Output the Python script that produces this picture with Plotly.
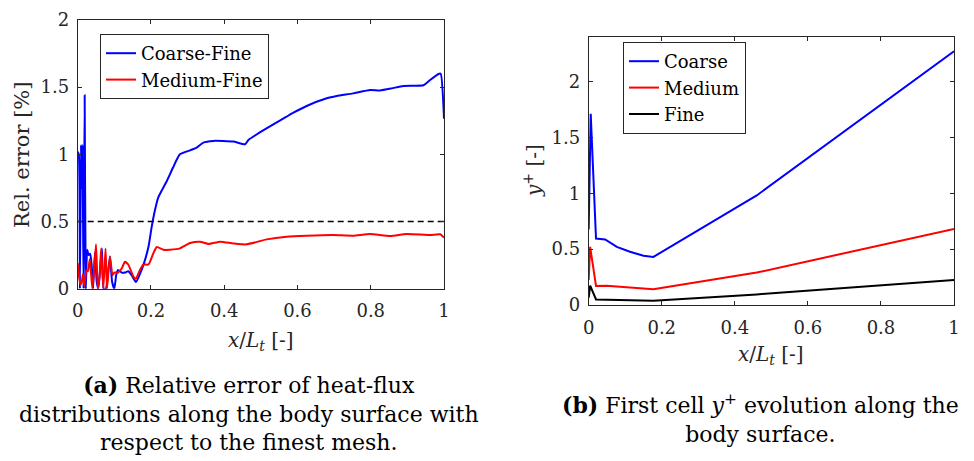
import plotly.graph_objects as go

# ---------------- data: (a) relative error ----------------
cf_x = [0, 0.003, 0.006, 0.009, 0.011, 0.013, 0.016, 0.019, 0.022, 0.026, 0.030, 0.034,
        0.038, 0.042, 0.047, 0.052, 0.056, 0.060, 0.066, 0.071, 0.077, 0.082, 0.088, 0.094,
        0.100, 0.105, 0.110, 0.120, 0.129, 0.138, 0.147, 0.159, 0.170, 0.181, 0.193, 0.202,
        0.211, 0.220, 0.243, 0.260, 0.279, 0.307, 0.325, 0.343, 0.370, 0.425, 0.457, 0.466,
        0.493, 0.534, 0.570, 0.589, 0.625, 0.680, 0.707, 0.752, 0.798, 0.825, 0.857, 0.889,
        0.944, 0.962, 0.985, 0.991, 1.0]
cf_y = [1.02, 1.0, 0.0, 1.07, 0.75, 1.07, 0.0, 1.44, 0.0, 0.29, 0.25, 0.26,
        0.18, 0.0, 0.27, 0.05, 0.0, 0.1, 0.30, 0.0, 0.0, 0.1, 0.24, 0.05,
        0.0, 0.10, 0.14, 0.12, 0.12, 0.13, 0.10, 0.05, 0.11, 0.19, 0.31, 0.46,
        0.586, 0.68, 0.80, 0.90, 1.0, 1.03, 1.05, 1.087, 1.10, 1.095, 1.075, 1.107,
        1.156, 1.223, 1.28, 1.31, 1.36, 1.417, 1.434, 1.454, 1.479, 1.476, 1.491, 1.509,
        1.514, 1.553, 1.598, 1.60, 1.265]

mf_x = [0, 0.004, 0.008, 0.011, 0.0145, 0.018, 0.024, 0.028, 0.033, 0.040, 0.045, 0.050,
        0.055, 0.060, 0.064, 0.070, 0.076, 0.080, 0.088, 0.095, 0.100, 0.110, 0.120, 0.129,
        0.138, 0.152, 0.159, 0.170, 0.179, 0.193, 0.206, 0.216, 0.234, 0.252, 0.279, 0.307,
        0.334, 0.357, 0.389, 0.425, 0.461, 0.516, 0.570, 0.625, 0.698, 0.752, 0.798, 0.853,
        0.898, 0.962, 0.990, 1.0]
mf_y = [0.19, 0.08, 0.03, 0.05, 0.11, 0.02, 0.14, 0.13, 0.22, 0.0, 0.15, 0.33,
        0.0, 0.1, 0.30, 0.0, 0.30, 0.0, 0.24, 0.1, 0.12, 0.12, 0.15, 0.20,
        0.18, 0.09, 0.075, 0.14, 0.18, 0.18, 0.26, 0.31, 0.29, 0.29, 0.30, 0.34,
        0.35, 0.333, 0.35, 0.337, 0.33, 0.367, 0.387, 0.395, 0.40, 0.395, 0.407, 0.392,
        0.407, 0.40, 0.405, 0.38]

threshold_x = [0, 1]
threshold_y = [0.5, 0.5]

# ---------------- data: (b) first cell y+ ----------------
coarse_x = [0, 0.0055, 0.02, 0.045, 0.077, 0.113, 0.15, 0.177, 0.46, 1.0]
coarse_y = [0.676, 1.71, 0.595, 0.586, 0.52, 0.476, 0.44, 0.43, 0.98, 2.27]
medium_x = [0, 0.004, 0.02, 0.049, 0.177, 0.46, 1.0]
medium_y = [0.223, 0.52, 0.17, 0.173, 0.14, 0.29, 0.68]
fine_x = [0, 0.004, 0.02, 0.177, 0.46, 1.0]
fine_y = [0.065, 0.173, 0.05, 0.039, 0.095, 0.223]

x_ticks = [0, 0.2, 0.4, 0.6, 0.8, 1]
x_ticktext = ["0", "0.2", "0.4", "0.6", "0.8", "1"]
y_ticks = [0, 0.5, 1, 1.5, 2]
y_ticktext = ["0", "0.5", "1", "1.5", "2"]

FONT = "DejaVu Serif"
AX = "#262626"
W, H = 974, 461

fig = go.Figure()
fig.add_trace(go.Scatter(x=cf_x, y=cf_y, mode="lines", name="Coarse-Fine",
                         line=dict(color="#0000ff", width=2, shape="spline", smoothing=0.5),
                         xaxis="x", yaxis="y", legend="legend"))
fig.add_trace(go.Scatter(x=mf_x, y=mf_y, mode="lines", name="Medium-Fine",
                         line=dict(color="#ff0000", width=2, shape="spline", smoothing=0.5),
                         xaxis="x", yaxis="y", legend="legend"))
fig.add_trace(go.Scatter(x=threshold_x, y=threshold_y, mode="lines", showlegend=False,
                         line=dict(color="black", width=1.5, dash="6px,4px"), xaxis="x", yaxis="y"))

fig.add_trace(go.Scatter(x=coarse_x, y=coarse_y, mode="lines", name="Coarse",
                         line=dict(color="#0000ff", width=2), xaxis="x2", yaxis="y2", legend="legend2"))
fig.add_trace(go.Scatter(x=medium_x, y=medium_y, mode="lines", name="Medium",
                         line=dict(color="#ff0000", width=2), xaxis="x2", yaxis="y2", legend="legend2"))
fig.add_trace(go.Scatter(x=fine_x, y=fine_y, mode="lines", name="Fine",
                         line=dict(color="#000000", width=2), xaxis="x2", yaxis="y2", legend="legend2"))


def axis(**kw):
    d = dict(showline=True, linecolor=AX, linewidth=1, mirror="ticks", ticks="inside",
             ticklen=4, tickcolor=AX, showgrid=False, zeroline=False, automargin=False,
             tickfont=dict(family=FONT, size=18, color=AX))
    d.update(kw)
    return d


def px_x(p):
    return p / W


def px_y(p):
    return 1 - p / H


fig.update_layout(
    width=W, height=H,
    margin=dict(l=0, r=0, t=0, b=0, autoexpand=False),
    paper_bgcolor="white", plot_bgcolor="white",
    font=dict(family=FONT, size=18, color="black"),
    xaxis=axis(domain=[px_x(77.7), px_x(444)], range=[0, 1], tickvals=x_ticks,
               ticktext=x_ticktext, anchor="y", ticklabelstandoff=6),
    yaxis=axis(domain=[px_y(288.7), px_y(20)], range=[0, 2], tickvals=y_ticks,
               ticktext=y_ticktext, anchor="x", ticklabelstandoff=4),
    xaxis2=axis(domain=[px_x(588.7), px_x(954)], range=[0, 1], tickvals=x_ticks,
                ticktext=x_ticktext, anchor="y2", ticklabelstandoff=6),
    yaxis2=axis(domain=[px_y(305), px_y(36.7)], range=[0, 2.4], tickvals=y_ticks,
                ticktext=y_ticktext, anchor="x2", ticklabelstandoff=4),
    legend=dict(x=px_x(100), y=px_y(34), xanchor="left", yanchor="top",
                bgcolor="white", bordercolor=AX, borderwidth=1,
                font=dict(family=FONT, size=18, color="black"), itemwidth=30,
                tracegroupgap=0),
    legend2=dict(x=px_x(623), y=px_y(42), xanchor="left", yanchor="top",
                 bgcolor="white", bordercolor=AX, borderwidth=1,
                 font=dict(family=FONT, size=18, color="black"), itemwidth=30,
                 tracegroupgap=0),
)

ann = []
# axis titles
ann.append(dict(text="Rel. error [%]", x=px_x(22), y=px_y(155), textangle=-90,
                font=dict(family=FONT, size=21, color=AX)))
ann.append(dict(text="<i>x</i>/<i>L</i><sub><i>t</i></sub> [-]", x=px_x(261), y=px_y(341),
                font=dict(family=FONT, size=20, color=AX)))
ann.append(dict(text="<i>y</i><sup>+</sup> [-]", x=px_x(533), y=px_y(171), textangle=-90,
                font=dict(family=FONT, size=20, color=AX)))
ann.append(dict(text="<i>x</i>/<i>L</i><sub><i>t</i></sub> [-]", x=px_x(771), y=px_y(355),
                font=dict(family=FONT, size=20, color=AX)))
# captions
ann.append(dict(text="<b>(a)</b> Relative error of heat-flux<br>distributions along the body surface with<br>respect to the finest mesh.",
                x=px_x(249), y=px_y(413), align="center",
                font=dict(family=FONT, size=22, color="black")))
ann.append(dict(text="<b>(b)</b> First cell <i>y</i><sup>+</sup> evolution along the<br>body surface.",
                x=px_x(760), y=px_y(418), align="center",
                font=dict(family=FONT, size=22, color="black")))
for a in ann:
    a.update(xref="paper", yref="paper", showarrow=False, xanchor="center", yanchor="middle")
fig.update_layout(annotations=ann)

fig.write_html("out.html", config={"displayModeBar": False},
               post_script="document.body.style.margin='0px';document.body.style.overflow='hidden';")
